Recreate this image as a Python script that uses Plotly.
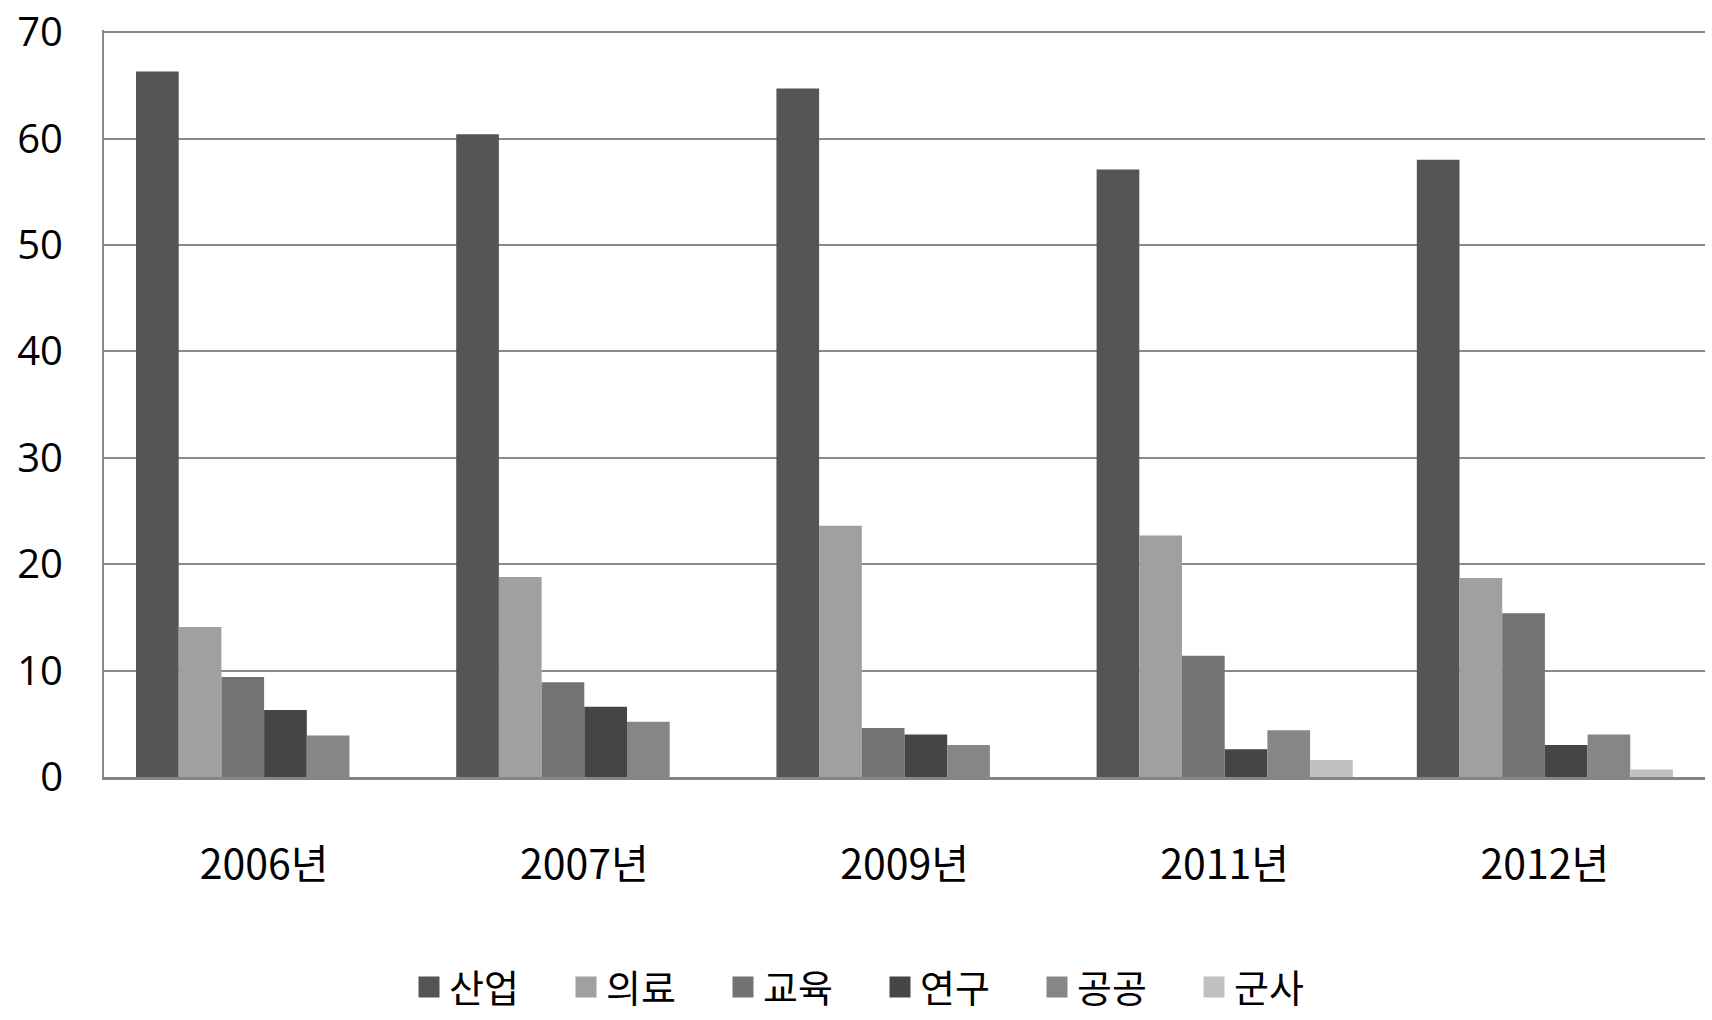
import plotly.graph_objects as go

categories = ["2006년", "2007년", "2009년", "2011년", "2012년"]
series_names = ["산업", "의료", "교육", "연구", "공공", "군사"]
industry = [66.3, 60.4, 64.7, 57.1, 58.0]
medical = [14.1, 18.8, 23.6, 22.7, 18.7]
education = [9.4, 8.9, 4.6, 11.4, 15.4]
research = [6.3, 6.6, 4.0, 2.6, 3.0]
public = [3.9, 5.2, 3.0, 4.4, 4.0]
military = [0, 0, 0, 1.6, 0.7]
y_ticks = [0, 10, 20, 30, 40, 50, 60, 70]

series_values = [industry, medical, education, research, public, military]
colors = ["#555555", "#a0a0a0", "#737373", "#454545", "#868686", "#c0c0c0"]

FONT = "Noto Sans CJK KR, Malgun Gothic, sans-serif"
NUM_FONT = "Open Sans, Noto Sans, sans-serif"

fig = go.Figure()
for name, vals, col in zip(series_names, series_values, colors):
    fig.add_trace(go.Bar(
        x=categories, y=vals, name=name, legendgroup=name, showlegend=False,
        marker=dict(color=col, line=dict(width=0)),
    ))
# legend entries (square swatches)
for name, col in zip(series_names, colors):
    fig.add_trace(go.Scatter(
        x=[None], y=[None], mode="markers", name=name, legendgroup=name,
        marker=dict(symbol="square", size=16, color=col, line=dict(width=6, color=col)),
        hoverinfo="skip",
    ))

fig.update_layout(
    width=1712, height=1020,
    margin=dict(l=104, r=7, t=30, b=243, autoexpand=False),
    paper_bgcolor="white", plot_bgcolor="white",
    barmode="group", bargap=0.2, bargroupgap=0,
    font=dict(family=FONT, size=41, color="black"),
    showlegend=True,
    legend=dict(
        orientation="h", xref="container", yref="container",
        x=409 / 1712, xanchor="left", y=0.032, yanchor="middle",
        entrywidth=112, entrywidthmode="pixels",
        font=dict(family=FONT, size=38, color="black"),
        traceorder="normal", itemsizing="trace",
    ),
)
fig.update_xaxes(
    type="category", showgrid=False, showline=True, linecolor="#858585", linewidth=3,
    ticks="", ticklabelstandoff=50, tickfont=dict(family=FONT, size=41), automargin=False,
)
fig.update_yaxes(
    range=[0, 70.2], tickvals=y_ticks, showgrid=True, gridcolor="#8a8a8a", gridwidth=2,
    showline=True, linecolor="#8a8a8a", linewidth=2, zeroline=False,
    ticks="", ticklabelstandoff=31, tickfont=dict(family=NUM_FONT, size=40), automargin=False,
    ticklabeloverflow="allow",
)

fig.write_html("out.html")
